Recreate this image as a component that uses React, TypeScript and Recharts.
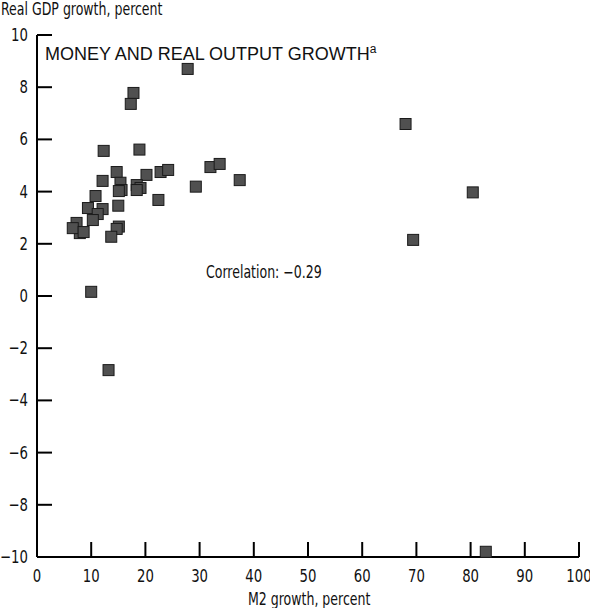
import React from 'react';
import { ScatterChart, Scatter, XAxis, YAxis } from 'recharts';

const m2Growth = [
  27.8, 17.8, 17.3, 68.0, 12.3, 18.9, 14.7, 12.1, 20.2, 22.8,
  24.2, 32.0, 33.7, 37.4, 29.3, 15.4, 15.6, 15.1, 18.4, 19.1,
  18.4, 22.4, 15.0, 15.1, 14.7, 13.7, 10.0, 13.2, 82.8, 80.4,
  69.4, 10.8, 9.4, 12.1, 11.2, 10.3, 7.3, 7.9, 6.6, 8.6
];
const gdpGrowth = [
  8.7, 7.78, 7.36, 6.59, 5.56, 5.61, 4.75, 4.41, 4.64, 4.75,
  4.83, 4.94, 5.06, 4.44, 4.19, 4.34, 4.06, 4.02, 4.25, 4.14,
  4.06, 3.68, 3.46, 2.66, 2.57, 2.27, 0.16, -2.84, -9.8, 3.97,
  2.15, 3.83, 3.37, 3.33, 3.14, 2.91, 2.8, 2.41, 2.6, 2.45
];
const xTicks = [0, 10, 20, 30, 40, 50, 60, 70, 80, 90, 100];
const yTicks = [-10, -8, -6, -4, -2, 0, 2, 4, 6, 8, 10];

const points = m2Growth.map((m2, i) => ({ m2, gdp: gdpGrowth[i] }));

const W = 590;
const H = 608;
const margin = { top: 35, right: 11, left: 0, bottom: 0 };
const yAxisW = 37;
const xAxisH = 51;
const plotL = margin.left + yAxisW;
const plotR = W - margin.right;
const plotT = margin.top;
const plotB = H - margin.bottom - xAxisH;
const TICK = 15;

const cond = "'DejaVu Sans Condensed', 'Liberation Sans', sans-serif";
const fmt = (v: number) => (v < 0 ? '\u2212' + Math.abs(v) : String(v));

const Square = (props: any) => {
  const { cx, cy } = props;
  return (
    <rect x={cx - 5.5} y={cy - 5.5} width={11} height={11} fill="#505050" stroke="#1a1a1a" strokeWidth={1} />
  );
};

const YTick = (props: any) => (
  <text transform={`translate(${props.x},${props.y}) scale(0.82,1)`} textAnchor="end" dominantBaseline="central"
    fontFamily={cond} fontSize={18} fill="#111">
    {fmt(props.payload.value)}
  </text>
);

const XTick = (props: any) => (
  <text transform={`translate(${props.x},${Number(props.y) + 9}) scale(0.82,1)`} textAnchor="middle" dominantBaseline="central"
    fontFamily={cond} fontSize={18} fill="#111">
    {props.payload.value}
  </text>
);

const squeeze = { transform: 'scaleX(0.82)', transformOrigin: 'left top', whiteSpace: 'nowrap' as const };
const frameLine = { stroke: '#000', strokeWidth: 2 };

// inward tick marks, laid over the chart on the same linear axes
const TickOverlay = () => (
  <svg width={W} height={H} style={{ position: 'absolute', left: 0, top: 0, pointerEvents: 'none', zIndex: 2 }}>
    {yTicks.map((v) => {
      const y = plotT + ((10 - v) / 20) * (plotB - plotT);
      return <line key={'y' + v} x1={plotL} x2={plotL + TICK} y1={y} y2={y} stroke="#000" strokeWidth={2} />;
    })}
    {xTicks.map((v) => {
      const x = plotL + (v / 100) * (plotR - plotL);
      return <line key={'x' + v} x1={x} x2={x} y1={plotB} y2={plotB - TICK} stroke="#000" strokeWidth={2} />;
    })}
  </svg>
);

export default function App() {
  return (
    <div style={{ position: 'absolute', left: 0, top: 0, width: W, height: H, background: '#fff' }}>
      <div style={{ position: 'absolute', left: 1, top: 0, fontFamily: cond, fontSize: 17, lineHeight: '18px', color: '#111', ...squeeze }}>
        Real GDP growth, percent
      </div>
      <ScatterChart width={W} height={H} margin={margin}>
        <XAxis
          type="number"
          dataKey="m2"
          domain={[0, 100]}
          ticks={xTicks}
          interval={0}
          height={xAxisH}
          tickSize={0}
          tickMargin={10}
          tick={<XTick />}
          tickLine={false}
          axisLine={frameLine}
        />
        <XAxis xAxisId="top" orientation="top" type="number" domain={[0, 100]} height={0} tick={false} tickLine={false} axisLine={frameLine} />
        <YAxis
          type="number"
          dataKey="gdp"
          domain={[-10, 10]}
          ticks={yTicks}
          interval={0}
          width={yAxisW}
          tickSize={0}
          tickMargin={9}
          tick={<YTick />}
          tickLine={false}
          axisLine={frameLine}
        />
        <YAxis yAxisId="right" orientation="right" type="number" domain={[-10, 10]} width={0} tick={false} tickLine={false} axisLine={{ stroke: '#000', strokeWidth: 3 }} />
        <Scatter data={points} shape={<Square />} isAnimationActive={false} />
      </ScatterChart>
      <TickOverlay />
      <div style={{ position: 'absolute', left: 45, top: 40, fontFamily: "'Liberation Sans', Arial, sans-serif", fontSize: 18, lineHeight: '18px', color: '#111', whiteSpace: 'nowrap' }}>
        MONEY AND REAL OUTPUT GROWTH<sup style={{ fontSize: 12 }}>a</sup>
      </div>
      <div style={{ position: 'absolute', left: 206, top: 262, fontFamily: cond, fontSize: 17, lineHeight: '20px', color: '#111', ...squeeze }}>
        Correlation: {'\u2212'}0.29
      </div>
      <div style={{ position: 'absolute', left: 248, top: 590, fontFamily: cond, fontSize: 17, lineHeight: '18px', color: '#111', ...squeeze }}>
        M2 growth, percent
      </div>
    </div>
  );
}
